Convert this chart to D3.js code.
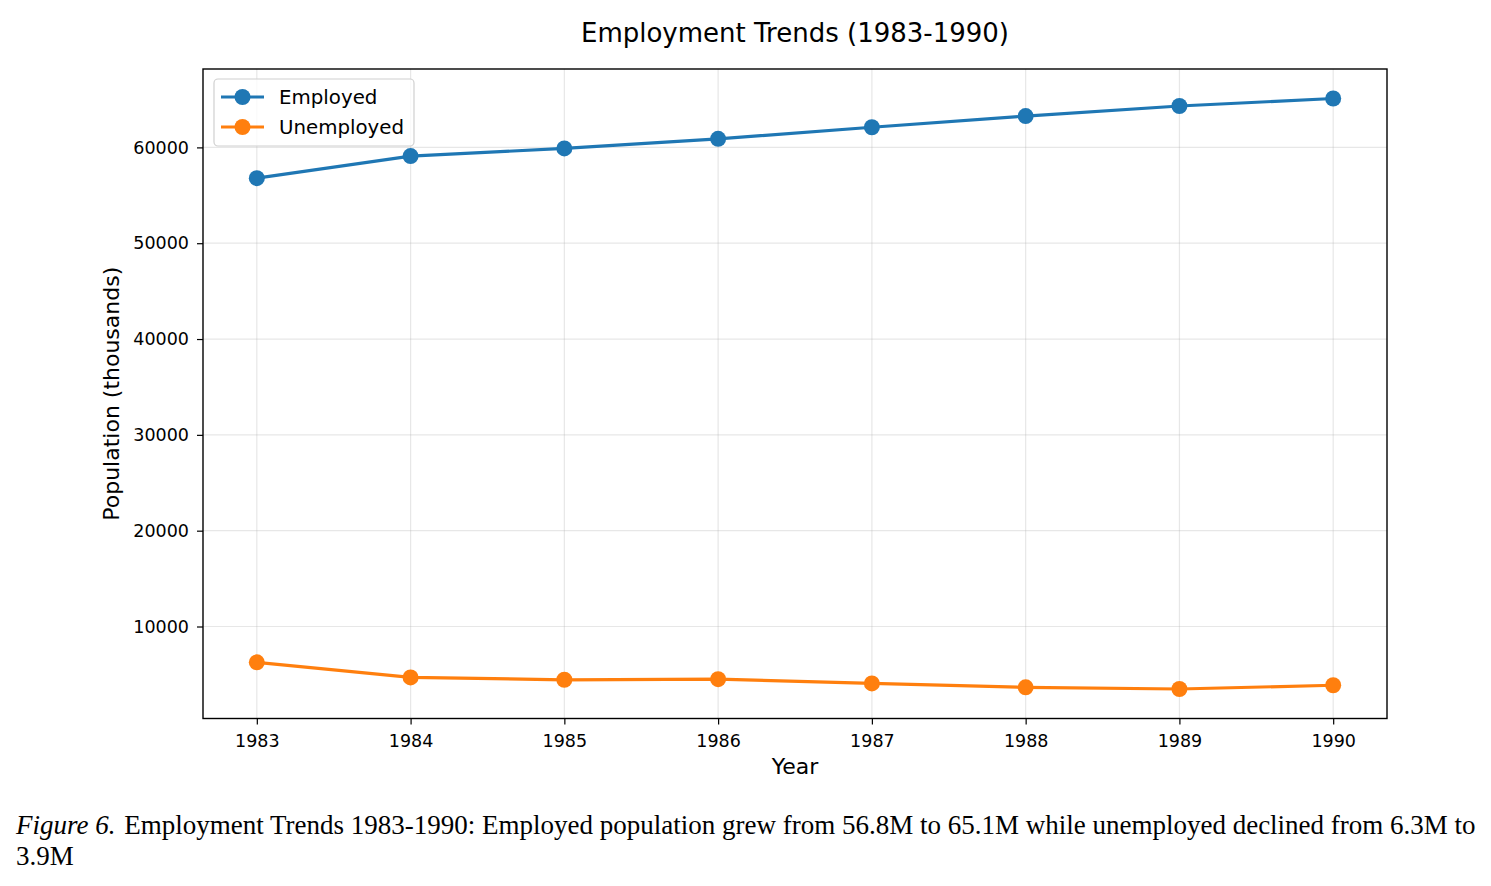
<!DOCTYPE html>
<html>
<head>
<meta charset="utf-8" />
<title>Employment Trends (1983-1990)</title>
<script src="https://d3js.org/d3.v7.min.js"></script>
<style>
    body { margin: 0; background: #fff; }
    #wrap { position: relative; width: 1491px; height: 886px; }
    svg text { font-family: "DejaVu Sans", sans-serif; fill: #000; }
    .caption {
        position: absolute;
        left: 16px;
        top: 810px;
        width: 1470px;
        font-family: "Liberation Serif", "Times New Roman", serif;
        font-size: 27px;
        line-height: 31px;
        color: #000;
    }
    .caption i { margin-right: 2px; }
</style>
</head>
<body>
<div id="wrap">
    <svg id="chart" width="1491" height="800"></svg>
    <div class="caption"><i>Figure 6.</i> Employment Trends 1983-1990: Employed population grew from 56.8M to 65.1M while unemployed declined from 6.3M to 3.9M</div>
</div>

<script>
    // values in thousands
    var years = [1983, 1984, 1985, 1986, 1987, 1988, 1989, 1990];
    var employed = [56790, 59090, 59890, 60890, 62100, 63270, 64320, 65100];
    var unemployed = [6260, 4690, 4440, 4500, 4060, 3650, 3480, 3870];
    var yTicks = [10000, 20000, 30000, 40000, 50000, 60000];
    var seriesNames = ["Employed", "Unemployed"];
    var seriesColors = ["#1f77b4", "#ff7f0e"];

    var svg = d3.select("#chart");
    var pLeft = 203, pRight = 1387, pTop = 69, pBottom = 718.5;

    // matplotlib-style 5% margins
    var allVals = employed.concat(unemployed);
    var yMin = d3.min(allVals), yMax = d3.max(allVals);
    var yPad = (yMax - yMin) * 0.05;
    var xPad = (d3.max(years) - d3.min(years)) * 0.05;

    var x = d3.scaleLinear()
        .domain([d3.min(years) - xPad, d3.max(years) + xPad])
        .range([pLeft, pRight]);
    var y = d3.scaleLinear()
        .domain([yMin - yPad, yMax + yPad])
        .range([pBottom, pTop]);

    // grid
    var grid = svg.append("g");
    grid.selectAll(".gx").data(years).enter().append("line")
        .attr("x1", function(d) { return x(d); })
        .attr("x2", function(d) { return x(d); })
        .attr("y1", pTop).attr("y2", pBottom)
        .attr("stroke", "#b0b0b0").attr("stroke-opacity", 0.3).attr("stroke-width", 1.2);
    grid.selectAll(".gy").data(yTicks).enter().append("line")
        .attr("x1", pLeft).attr("x2", pRight)
        .attr("y1", function(d) { return y(d); })
        .attr("y2", function(d) { return y(d); })
        .attr("stroke", "#b0b0b0").attr("stroke-opacity", 0.3).attr("stroke-width", 1.2);

    // axes
    var xAxis = svg.append("g")
        .attr("transform", "translate(0," + pBottom + ")")
        .call(d3.axisBottom(x).tickValues(years).tickFormat(d3.format("d"))
            .tickSize(6).tickSizeOuter(0).tickPadding(10));
    var yAxis = svg.append("g")
        .attr("transform", "translate(" + pLeft + ",0)")
        .call(d3.axisLeft(y).tickValues(yTicks).tickFormat(d3.format("d"))
            .tickSize(6).tickSizeOuter(0).tickPadding(8));
    [xAxis, yAxis].forEach(function(a) {
        a.select(".domain").remove();
        a.selectAll("line").attr("stroke", "#000").attr("stroke-width", 1.2);
        a.selectAll("text").style("font-family", "DejaVu Sans").style("font-size", "17.5px").attr("fill", "#000");
    });

    // frame
    svg.append("rect")
        .attr("x", pLeft).attr("y", pTop)
        .attr("width", pRight - pLeft).attr("height", pBottom - pTop)
        .attr("fill", "none").attr("stroke", "#000").attr("stroke-width", 1.4);

    // lines + markers
    var seriesData = [employed, unemployed];
    var line = d3.line()
        .x(function(d, i) { return x(years[i]); })
        .y(function(d) { return y(d); });

    seriesData.forEach(function(vals, k) {
        svg.append("path")
            .datum(vals)
            .attr("d", line)
            .attr("fill", "none")
            .attr("stroke", seriesColors[k])
            .attr("stroke-width", 3.2);
        svg.append("g").selectAll("circle").data(vals).enter().append("circle")
            .attr("cx", function(d, i) { return x(years[i]); })
            .attr("cy", function(d) { return y(d); })
            .attr("r", 8)
            .attr("fill", seriesColors[k]);
    });

    // titles
    svg.append("text")
        .attr("x", (pLeft + pRight) / 2).attr("y", 42)
        .attr("text-anchor", "middle")
        .style("font-size", "26px")
        .text("Employment Trends (1983-1990)");
    svg.append("text")
        .attr("x", (pLeft + pRight) / 2).attr("y", 774)
        .attr("text-anchor", "middle")
        .style("font-size", "22px")
        .text("Year");
    svg.append("text")
        .attr("transform", "translate(119," + ((pTop + pBottom) / 2) + ") rotate(-90)")
        .attr("text-anchor", "middle")
        .style("font-size", "22px")
        .text("Population (thousands)");

    // legend
    var legend = svg.append("g");
    legend.append("rect")
        .attr("x", 214).attr("y", 79).attr("width", 200).attr("height", 67)
        .attr("rx", 4)
        .attr("fill", "#fff").attr("fill-opacity", 0.8)
        .attr("stroke", "#d0d0d0").attr("stroke-width", 1.2);
    seriesNames.forEach(function(name, k) {
        var ly = 97 + k * 30;
        legend.append("line")
            .attr("x1", 221).attr("x2", 264).attr("y1", ly).attr("y2", ly)
            .attr("stroke", seriesColors[k]).attr("stroke-width", 3.2);
        legend.append("circle")
            .attr("cx", 242.5).attr("cy", ly).attr("r", 8)
            .attr("fill", seriesColors[k]);
        legend.append("text")
            .attr("x", 279).attr("y", ly + 7)
            .style("font-size", "19.8px")
            .text(name);
    });
</script>
</body>
</html>
